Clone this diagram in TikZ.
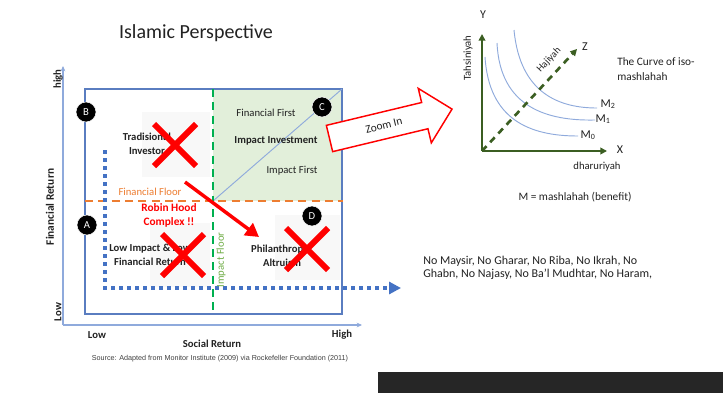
\documentclass[tikz,border=0pt]{standalone}
\usepackage{fontspec}
\setmainfont{Carlito}
\newfontfamily\arialfont{Liberation Sans}
\usetikzlibrary{arrows.meta}
\definecolor{boxblue}{HTML}{5A7DC0}
\definecolor{axblue}{HTML}{8FAADC}
\definecolor{dotblue}{HTML}{4472C4}
\definecolor{lgreen}{HTML}{E2EFDA}
\definecolor{dgreen}{HTML}{00B050}
\definecolor{orng}{HTML}{ED7D31}
\definecolor{graphgreen}{HTML}{3B5E22}
\definecolor{txt}{HTML}{222222}
\definecolor{flrgreen}{HTML}{70AD47}
\definecolor{barblack}{HTML}{262626}
\definecolor{redc}{HTML}{FF0000}
\definecolor{xbg}{HTML}{F8F8F8}
\tikzset{
  boxlbl/.style={font=\fontsize{8}{10.5}\selectfont\bfseries, align=center, text=txt, inner sep=0},
  plainlbl/.style={font=\fontsize{8}{10}\selectfont, align=center, text=txt, inner sep=0},
  circmark/.style={circle, fill=black, draw=white, line width=0.4pt, minimum size=15pt, inner sep=0, text=white, font=\fontsize{8}{9}\selectfont},
  redx/.style={draw=redc, line width=4.5pt},
  dotline/.style={draw=dotblue, line width=3pt, dash pattern=on 3pt off 3pt, -{Triangle[length=9pt,width=9pt]}},
  axisline/.style={draw=axblue, line width=0.8pt, -{Stealth[length=4pt,width=3.5pt]}},
  gaxis/.style={draw=graphgreen, line width=2pt, -{Triangle[length=5pt,width=5pt]}},
  isocurve/.style={draw=axblue, line width=0.7pt},
  glbl/.style={font=\fontsize{9}{10}\selectfont, text=txt, inner sep=0}
}
\begin{document}
\begin{tikzpicture}[x=0.75pt,y=-0.75pt]
\useasboundingbox (0,0) rectangle (723,393);
\fill[white] (0,0) rectangle (723,393);
% bottom bar
\fill[barblack] (378,372) rectangle (723,393);
% title
\node[font=\fontsize{15}{18}\selectfont, text=txt] (title) at (196,33) {Islamic Perspective};
% axes of matrix
\coordinate (corner) at (63,325);
\coordinate (ytop) at (63,66);
\coordinate (xend) at (362,325);
\draw[axisline] (corner) -- (ytop);
\draw[axisline] (corner) -- (xend);
% green quadrant
\fill[lgreen] (213,89) rectangle (342,201);
% faint backgrounds behind crosses
\fill[xbg] (142,112) rectangle (210,177);
\fill[xbg] (150,223) rectangle (210,287);
\fill[xbg] (275,215) rectangle (340,280);
% main box
\draw[boxblue, line width=0.8pt] (85,89) rectangle (342,314);
% diagonal
\coordinate (dgA) at (213,201);
\coordinate (dgB) at (342,89);
\draw[axblue, line width=0.7pt] (dgA) -- (dgB);
% floors
\coordinate (ffA) at (85,201);
\coordinate (ffB) at (343,201);
\draw[orng, line width=1.6pt, dash pattern=on 6pt off 4pt] (ffA) -- (ffB);
\coordinate (ifA) at (213,89);
\coordinate (ifB) at (213,314);
\draw[dgreen, line width=1.6pt, dash pattern=on 6pt off 4pt] (ifA) -- (ifB);
% dotted blue
\coordinate (dt1) at (105,150);
\coordinate (dt2) at (105,288);
\coordinate (dt3) at (401,288);
\draw[dotline] (dt1) -- (dt2) -- (dt3);
% quadrant texts
\node[plainlbl] (ffirst) at (266,113) {Financial First};
\node[boxlbl] (iinv) at (276,141) {Impact Investment};
\node[plainlbl] (ifirst) at (292,171) {Impact First};
\node[boxlbl] (trad) at (147,143.5) {Tradisional\\Investor};
\node[font=\fontsize{8}{10}\selectfont, text=orng, inner sep=0] (ffloor) at (150,192) {Financial Floor};
\node[font=\fontsize{8.5}{11}\selectfont\bfseries, text=redc, align=center, inner sep=0] (robin) at (169,215.5) {Robin Hood\\Complex !!};
\node[boxlbl] (lowimp) at (150,255) {Low Impact \& Low\\Financial Return};
\node[boxlbl] (phil) at (282,256) {Philanthropy/\\Altruism};
\node[font=\fontsize{8}{10}\selectfont, text=flrgreen, rotate=90, inner sep=0] (ifloor) at (221,260) {Impact Floor};
% circles
\node[circmark] (cB) at (86,112) {B};
\node[circmark] (cA) at (87,225) {A};
\node[circmark] (cC) at (322,107) {C};
\node[circmark] (cD) at (312,216) {D};
% red crosses
\foreach \cx/\cy in {175/145,183/255,307/249}{
  \draw[redx] (\cx-21,\cy-21) -- (\cx+21,\cy+21) (\cx-21,\cy+21) -- (\cx+21,\cy-21);
}
% robin hood arrow
\coordinate (raS) at (185,182);
\coordinate (raE) at (259,237);
\draw[redc, line width=2.6pt, -{Triangle[length=10pt,width=11pt]}] (raS) -- (raE);
% axis labels
\node[font=\fontsize{8.5}{10}\selectfont\bfseries, text=txt, rotate=90, inner sep=0] (finret) at (50,207) {Financial Return};
\node[font=\fontsize{8}{10}\selectfont\bfseries, text=txt, rotate=90, inner sep=0] (yhigh) at (58,79) {high};
\node[font=\fontsize{8}{10}\selectfont\bfseries, text=txt, rotate=90, inner sep=0] (ylow) at (58,312) {Low};
\node[font=\fontsize{8}{10}\selectfont\bfseries, text=txt, inner sep=0] (xlow) at (97,335) {Low};
\node[font=\fontsize{8}{10}\selectfont\bfseries, text=txt, inner sep=0] (xhigh) at (342,335) {High};
\node[font=\fontsize{8}{10}\selectfont\bfseries, text=txt, inner sep=0] (socret) at (212,344) {Social Return};
\node[font=\arialfont\fontsize{5.4}{6}\selectfont, text=black!75, inner sep=0] (source) at (220,359) {Source: Adapted from Monitor Institute (2009) via Rockefeller Foundation (2011)};
% zoom in arrow
\begin{scope}[shift={(329.5,138.5)}, rotate=13.5]
  \draw[redc, line width=1.1pt, fill=white, line join=miter] (0,-13.5) -- (98,-13.5) -- (98,-28) -- (126,0) -- (98,28) -- (98,13.5) -- (0,13.5) -- cycle;
  \node[font=\fontsize{8.5}{10}\selectfont, text=txt, rotate=13.5, inner sep=0] (zoomin) at (56,0) {Zoom In};
\end{scope}
% right graph
\coordinate (O) at (482,151);
\coordinate (Ytop) at (482,34);
\coordinate (Xend) at (607,151);
\coordinate (Zend) at (577,49);
\draw[isocurve] (485,57) .. controls (489,120) and (530,136) .. (578,136);
\draw[isocurve] (497,43) .. controls (500,108) and (548,121) .. (595,120);
\draw[isocurve] (514,30) .. controls (520,94) and (560,108) .. (597,108);
\draw[graphgreen, line width=2pt, dash pattern=on 5pt off 4pt, -{Triangle[length=5pt,width=5pt]}] (O) -- (Zend);
\draw[gaxis] (O) -- (Ytop);
\draw[gaxis] (O) -- (Xend);
\node[glbl] (lY) at (483,15) {Y};
\node[glbl] (lX) at (620,150) {X};
\node[glbl] (lZ) at (585,47) {Z};
\node[font=\fontsize{8}{10}\selectfont, text=txt, rotate=90, inner sep=0] (tahs) at (468,58) {Tahsiniyah};
\node[font=\fontsize{8}{10}\selectfont, text=txt, inner sep=0] (dhar) at (597,167) {dharuriyah};
\node[font=\fontsize{7.5}{9}\selectfont, text=txt, rotate=47, inner sep=0] (haji) at (549,60) {Hajiyah};
\node[glbl] (m0) at (588,135) {M\textsubscript{0}};
\node[glbl] (m1) at (603,119) {M\textsubscript{1}};
\node[glbl] (m2) at (608,104) {M\textsubscript{2}};
\node[font=\fontsize{8.5}{11.25}\selectfont, text=txt, align=left, anchor=west, inner sep=0] (curve) at (617,69.5) {The Curve of iso-\\mashlahah};
\node[font=\fontsize{8.5}{10}\selectfont, text=txt, inner sep=0] (mdef) at (575,197) {M = mashlahah (benefit)};
\node[font=\fontsize{9}{9.75}\selectfont, text=txt, align=left, anchor=west, inner sep=0] (nolist) at (423,267.5) {No Maysir, No Gharar, No Riba, No Ikrah, No\\Ghabn, No Najasy, No Ba’l Mudhtar, No Haram,};
\end{tikzpicture}
\end{document}
